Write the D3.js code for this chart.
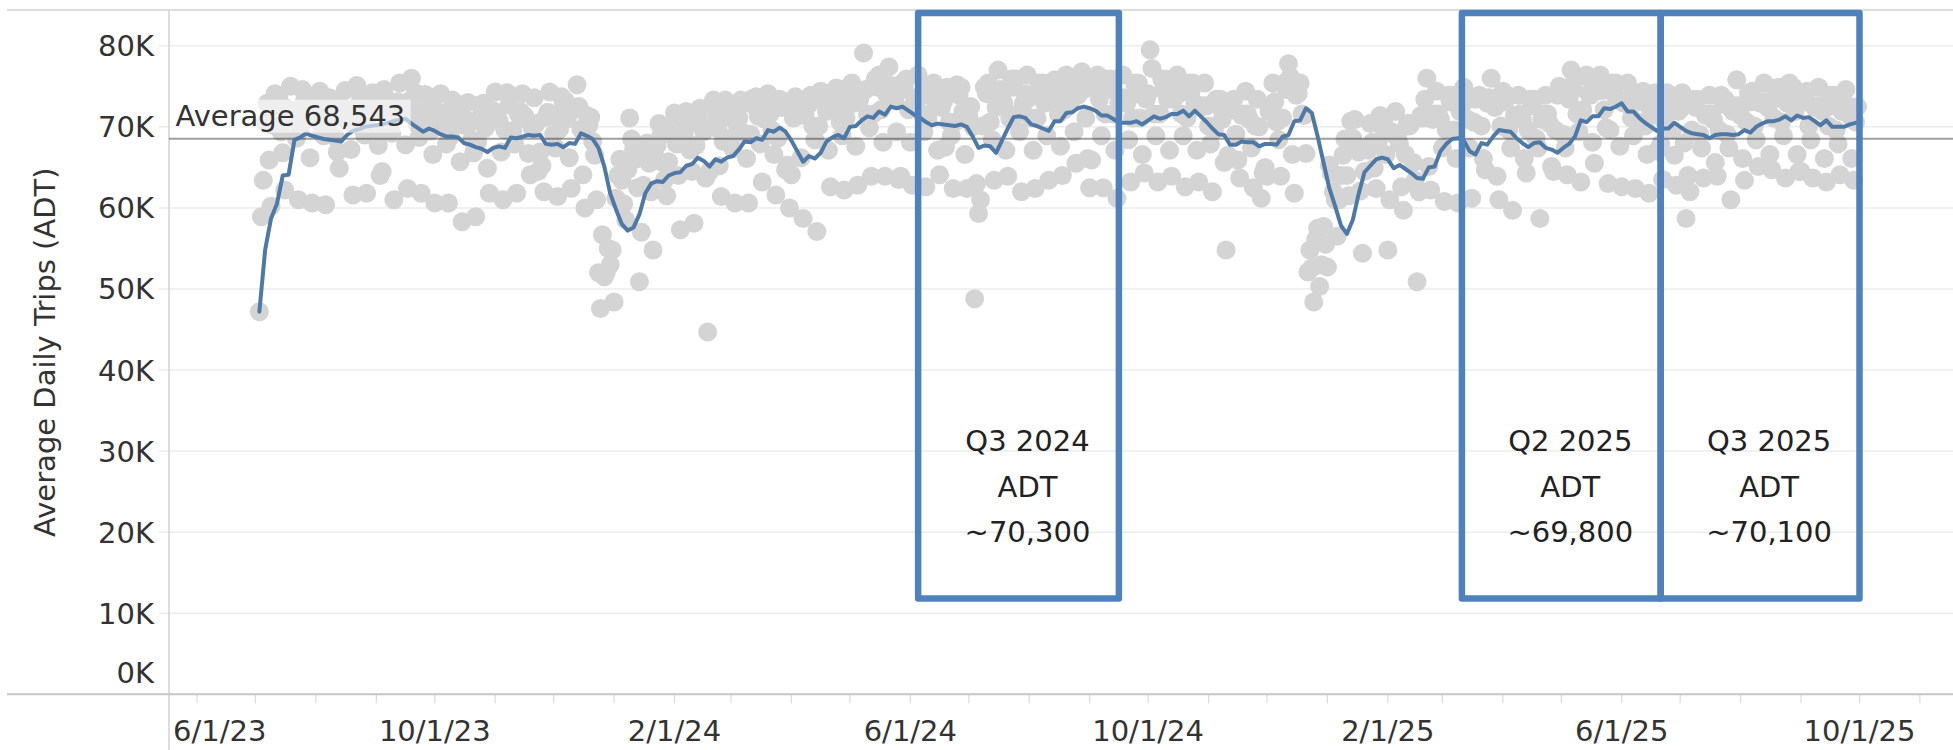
<!DOCTYPE html>
<html>
<head>
<meta charset="utf-8">
<script src="https://cdn.jsdelivr.net/npm/d3@7"></script>
<style>
  html, body { margin: 0; padding: 0; background: #ffffff; }
  svg { display: block; font-family: "DejaVu Sans", "Open Sans", sans-serif; }
</style>
</head>
<body>
<svg id="chart" width="1953" height="750"></svg>
<script>
// ---------------- DATA (values in thousands of trips) ----------------
const yTickValues = [0, 10, 20, 30, 40, 50, 60, 70, 80];
const yTickLabels = ["0K", "10K", "20K", "30K", "40K", "50K", "60K", "70K", "80K"];
const xTickDates = ["2023-06-01", "2023-10-01", "2024-02-01", "2024-06-01", "2024-10-01", "2025-02-01", "2025-06-01", "2025-10-01"];
const xTickLabels = ["6/1/23", "10/1/23", "2/1/24", "6/1/24", "10/1/24", "2/1/25", "6/1/25", "10/1/25"];
const yAxisTitle = "Average Daily Trips (ADT)";

const averageValue = 68.543;
const averageLabel = "Average 68,543";

// rolling-average line, one reading every 3 days
const lineStart = "2023-07-03";
const lineStepDays = 3;
const lineValues = [
  47.2, 54.9, 58.7, 60.5, 64.0, 64.1, 68.4, 68.7, 69.2, 68.9,
  68.7, 68.5, 68.4, 68.3, 68.2, 69.0, 69.5, 69.7, 70.0, 70.1,
  70.2, 70.3, 70.5, 70.7, 70.9, 71.0, 70.4, 69.9, 69.4, 69.8,
  69.5, 69.1, 68.8, 68.8, 68.7, 68.0, 67.8, 67.5, 67.3, 66.9,
  67.4, 67.6, 67.4, 68.7, 68.6, 68.8, 69.0, 68.9, 69.0, 67.9,
  67.8, 67.9, 67.5, 68.0, 67.9, 69.2, 68.9, 68.5, 67.4, 65.1,
  61.8, 59.8, 58.0, 57.2, 57.6, 59.2, 61.8, 63.0, 63.3, 63.2,
  64.0, 64.3, 64.4, 65.2, 65.4, 66.2, 65.8, 65.1, 66.0, 65.7,
  66.2, 66.4, 67.2, 68.2, 68.1, 68.6, 68.4, 69.6, 69.4, 69.9,
  69.4, 68.3, 67.0, 65.7, 66.4, 66.1, 66.8, 68.2, 68.7, 69.0,
  68.6, 70.0, 70.1, 70.8, 71.3, 71.1, 71.9, 71.5, 72.5, 72.3,
  72.5, 72.0, 71.5, 71.1, 70.6, 70.2, 70.4, 70.3, 70.2, 70.1,
  70.3, 70.0, 68.8, 67.4, 67.7, 67.6, 66.8, 68.3, 69.8, 71.2,
  71.3, 71.1, 70.3, 70.1, 69.8, 69.5, 70.7, 70.7, 71.7, 71.8,
  72.3, 72.5, 72.3, 72.0, 71.4, 71.4, 71.0, 70.5, 70.5, 70.5, 70.7,
  70.3, 70.8, 71.3, 71.0, 71.2, 71.6, 71.6, 72.0, 71.3, 72.0,
  71.3, 70.6, 69.8, 69.1, 69.0, 67.8, 67.8, 68.2, 68.1, 68.1,
  67.6, 67.9, 67.9, 67.8, 68.8, 69.0, 70.7, 70.8, 72.3, 71.7,
  68.8, 65.6, 62.4, 60.2, 57.8, 56.8, 58.5, 61.7, 64.4, 65.2,
  66.0, 66.2, 66.0, 64.9, 65.3, 64.8, 64.3, 63.7, 63.6, 65.0,
  65.1, 67.0, 67.9, 68.5, 68.6, 68.3, 67.0, 66.6, 68.0, 67.8,
  68.8, 69.6, 69.5, 69.4, 68.6, 68.0, 67.5, 68.0, 68.1, 67.4,
  67.2, 66.8, 67.4, 67.9, 68.8, 70.8, 70.6, 71.3, 71.3, 72.3,
  72.2, 72.5, 72.9, 71.9, 71.9, 71.1, 70.5, 70.0, 69.5, 69.8,
  69.8, 70.5, 70.0, 69.5, 69.2, 69.1, 69.0, 68.6, 69.0, 69.1,
  69.1, 69.0, 69.1, 69.6, 69.3, 70.0, 70.4, 70.7, 70.7, 70.9,
  71.3, 70.8, 71.4, 71.1, 71.2, 70.7, 70.2, 70.8, 70.0, 70.0,
  70.0, 70.3, 70.5
];

// daily trips, one row per week (Mon..Sun), starting Monday 2023-07-03
const dotStart = "2023-07-03";
const dotWeeks = [
  [47.2,58.9,63.4,70.5,72.9,65.9,60.2],
  [70.2,74.1,72.6,73.8,69.4,66.8,62.2],
  [72.3,71.1,75.0,72.0,70.9,68.6,61.0],
  [69.6,74.6,73.1,71.4,72.2,66.2,60.6],
  [71.9,70.8,73.4,74.4,69.2,68.9,60.4],
  [70.1,73.6,71.7,72.9,68.7,66.9,64.9],
  [72.6,71.9,74.5,70.6,71.4,67.2,61.6],
  [70.9,75.1,72.8,74.0,69.9,69.0,61.8],
  [73.1,71.6,74.2,72.4,69.3,67.7,64.0],
  [64.5,74.6,72.5,73.3,71.9,69.2,61.0],
  [71.2,73.1,75.4,71.8,72.6,67.8,62.4],
  [73.2,76.0,71.9,74.2,70.3,68.7,61.8],
  [70.6,74.0,72.4,73.7,69.5,66.6,60.6],
  [72.0,71.2,74.1,71.6,70.5,67.9,60.6],
  [68.8,73.3,71.8,72.9,70.4,65.7,58.3],
  [70.2,70.9,73.0,70.5,68.4,66.8,58.9],
  [68.2,72.7,71.4,72.9,69.9,64.9,61.8],
  [71.3,72.0,74.3,71.4,70.7,66.9,61.0],
  [69.6,74.2,72.7,73.9,69.5,67.9,61.8],
  [71.5,71.9,74.1,71.4,70.9,66.7,64.1],
  [69.8,73.6,70.4,64.5,66.9,65.2,62.0],
  [71.2,71.8,74.3,71.5,69.1,67.4,61.4],
  [69.7,73.7,72.9,73.2,71.0,66.2,62.4],
  [72.1,72.4,75.2,72.5,69.7,64.1,60.0],
  [71.4,70.2,71.2,68.2,66.5,61.0,52.0],
  [47.6,56.7,51.5,52.1,55.0,53.0,54.8],
  [48.4,61.2,64.0,66.0,63.4,60.5,58.5],
  [64.7,71.1,68.5,67.2,66.0,62.5,50.9],
  [57.0,62.8,66.3,68.0,65.5,62.0,54.8],
  [66.3,67.7,70.4,68.9,65.6,63.5,61.5],
  [65.7,70.1,69.3,71.7,67.9,64.0,57.3],
  [67.9,69.2,71.9,70.3,67.1,64.5,58.1],
  [67.7,71.2,72.3,70.1,69.4,63.7,44.7],
  [64.5,72.4,73.3,70.6,69.8,65.2,61.4],
  [68.2,73.3,71.2,72.0,68.7,67.3,60.6],
  [70.4,71.1,73.3,72.9,69.2,66.1,60.6],
  [69.1,73.5,72.6,73.7,71.3,67.9,63.2],
  [71.0,72.1,74.1,71.6,69.6,66.6,61.6],
  [68.6,73.4,72.4,72.9,64.7,65.3,60.0],
  [64.1,71.1,73.7,72.1,71.4,66.2,58.7],
  [71.4,73.4,72.8,73.9,70.1,68.4,57.1],
  [70.1,74.4,73.2,74.1,71.9,67.1,62.6],
  [72.4,73.1,74.8,72.9,70.6,68.9,62.2],
  [71.1,74.9,73.9,75.4,72.9,67.6,62.8],
  [73.4,74.1,79.1,74.6,71.6,69.9,63.9],
  [71.6,75.9,74.9,76.4,72.1,68.1,63.9],
  [73.9,77.4,75.1,74.3,73.4,69.4,63.5],
  [63.9,75.4,74.6,75.9,72.1,68.1,62.8],
  [72.9,73.6,76.4,73.7,71.6,69.4,62.6],
  [71.1,74.9,73.7,75.4,72.9,67.1,64.1],
  [72.4,73.1,67.5,74.9,70.6,68.9,62.4],
  [70.6,75.2,73.9,74.9,71.9,66.6,62.4],
  [71.4,72.5,70.0,48.8,63.0,59.3,61.0],
  [70.1,74.9,74.1,75.4,70.6,68.4,63.4],
  [72.4,77.0,74.6,73.6,72.9,67.1,63.9],
  [71.1,75.9,74.9,75.9,71.6,69.4,62.0],
  [72.9,74.1,76.4,73.6,71.1,67.1,62.4],
  [71.1,75.4,74.6,75.4,72.9,68.9,63.4],
  [73.4,74.1,75.8,74.1,71.6,67.6,64.0],
  [72.1,76.4,75.1,75.9,73.4,69.4,65.5],
  [73.9,74.6,76.8,74.6,71.1,66.1,62.5],
  [65.9,75.4,74.9,76.4,73.4,68.9,62.5],
  [71.6,75.9,74.6,75.9,71.6,67.1,61.2],
  [72.9,73.6,76.4,73.6,72.9,68.4,63.2],
  [71.1,75.4,74.1,75.4,71.1,66.6,64.3],
  [73.4,74.1,79.5,77.2,71.6,68.9,63.2],
  [71.6,75.9,74.6,75.9,73.4,67.1,63.9],
  [73.4,74.3,76.4,74.1,71.6,68.9,62.6],
  [71.1,75.4,74.3,75.4,72.9,67.1,63.2],
  [72.4,72.6,75.4,72.6,70.1,67.9,62.0],
  [69.6,73.4,72.6,73.4,70.9,65.6,54.8],
  [66.5,72.9,72.1,73.4,69.1,65.9,63.7],
  [71.4,71.6,74.4,71.6,70.9,67.4,62.5],
  [70.1,73.4,70.0,61.2,64.3,65.0,63.9],
  [71.9,72.6,75.4,73.1,70.6,68.4,63.9],
  [71.1,75.4,74.6,77.8,76.2,66.6,61.8],
  [73.9,74.1,75.4,71.6,71.4,66.7,52.1],
  [54.8,52.6,48.4,56.1,57.5,50.3,53.0],
  [57.7,55.5,52.7,65.3,64.3,62.0,61.0],
  [56.5,61.0,64.0,66.5,68.5,64.0,61.5],
  [70.7,68.6,70.9,67.6,66.9,62.1,54.4],
  [64.5,67.4,67.1,70.4,68.1,64.9,62.4],
  [68.1,71.4,70.1,70.9,66.6,54.8,61.0],
  [69.4,69.1,71.9,69.1,67.9,62.6,59.7],
  [66.6,70.4,70.1,70.4,65.6,63.4,50.9],
  [62.0,71.4,71.1,73.4,76.0,65.1,62.2],
  [70.9,71.6,74.4,71.6,70.9,67.4,60.8],
  [69.6,73.9,73.1,73.9,69.6,66.1,60.6],
  [71.9,72.6,74.9,73.9,70.9,67.4,61.2],
  [70.6,73.4,73.6,73.9,70.1,66.1,64.7],
  [72.9,73.6,76.0,73.1,72.4,63.9,61.0],
  [70.1,74.4,73.1,73.9,69.6,67.4,59.7],
  [71.4,71.2,73.9,71.6,70.9,66.1,64.3],
  [69.6,73.4,72.6,73.4,68.6,67.4,58.7],
  [70.9,71.6,73.9,71.6,70.4,65.1,64.5],
  [69.6,73.9,75.0,74.4,69.1,67.4,64.1],
  [73.4,77.0,74.6,75.9,71.6,69.4,63.2],
  [72.1,76.2,76.4,74.1,73.9,68.1,65.5],
  [74.4,75.1,76.4,74.5,72.1,69.9,63.0],
  [69.6,75.4,74.1,75.4,73.4,67.6,62.6],
  [72.9,73.2,75.4,73.1,71.1,68.9,62.4],
  [70.6,74.2,73.1,74.4,70.1,66.6,61.8],
  [71.9,72.1,74.2,67.0,71.4,67.9,63.5],
  [70.6,74.2,72.6,73.9,69.6,66.5,62.8],
  [71.9,72.1,74.2,68.0,58.7,64.0,62.0],
  [69.6,73.4,72.4,73.4,69.1,67.4,63.7],
  [71.4,71.6,73.9,71.6,70.9,65.6,63.9],
  [69.6,73.9,72.8,73.4,69.1,67.4,61.0],
  [71.9,72.6,75.8,72.6,71.4,66.1,63.4],
  [70.6,74.2,73.1,74.4,70.1,68.4,65.1],
  [72.9,73.1,75.4,73.1,72.4,66.6,64.7],
  [71.1,74.8,73.6,74.9,70.6,68.9,63.7],
  [72.9,75.4,73.6,74.9,71.9,66.6,64.5],
  [64.5,74.2,73.1,74.4,70.1,68.4,63.7],
  [72.4,72.6,74.9,72.6,71.9,66.1,63.2],
  [70.1,73.9,72.6,73.9,69.6,67.9,64.1],
  [71.9,72.6,74.6,72.6,71.4,66.1,63.4],
  [70.6,72.5]
];

// quarter annotation boxes
const boxStarts = ["2024-06-05", "2025-03-11", "2025-06-21"];
const boxEnds   = ["2024-09-16", "2025-06-21", "2025-10-01"];
const boxLabels = [
  ["Q3 2024", "ADT", "~70,300"],
  ["Q2 2025", "ADT", "~69,800"],
  ["Q3 2025", "ADT", "~70,100"]
];

// ---------------- DRAWING ----------------
const svg = d3.select("#chart");
const parse = d3.utcParse("%Y-%m-%d");
const FONT = 29;
const TEXT = "#333333";

const x = d3.scaleUtc()
  .domain([parse("2023-06-01"), parse("2025-10-01")])
  .range([197, 1859.5]);
const y = d3.scaleLinear().domain([0, 80]).range([694.3, 45.8]);

const axisX = 169, rightEdge = 1953, topEdge = 10;

// gridlines
svg.append("g").selectAll("line").data(yTickValues).join("line")
  .attr("x1", 159).attr("x2", rightEdge)
  .attr("y1", d => y(d)).attr("y2", d => y(d))
  .attr("stroke", "#ececec").attr("stroke-width", 1.5);

// frame lines
svg.append("line").attr("x1", 7).attr("x2", rightEdge).attr("y1", topEdge).attr("y2", topEdge)
  .attr("stroke", "#d2d2d2").attr("stroke-width", 1.5);
svg.append("line").attr("x1", axisX).attr("x2", axisX).attr("y1", topEdge).attr("y2", 750)
  .attr("stroke", "#d2d2d2").attr("stroke-width", 1.5);

// x month ticks
const months = d3.utcMonth.range(parse("2023-06-01"), parse("2025-11-02"));
svg.append("g").selectAll("line").data(months).join("line")
  .attr("x1", d => x(d)).attr("x2", d => x(d))
  .attr("y1", y(0)).attr("y2", y(0) + 9)
  .attr("stroke", "#dadada").attr("stroke-width", 1.2);

// dots
const dotOrigin = parse(dotStart);
const dots = [];
dotWeeks.forEach((row, w) => row.forEach((v, d) => {
  dots.push({ date: d3.utcDay.offset(dotOrigin, w * 7 + d), v });
}));
svg.append("g").selectAll("circle").data(dots).join("circle")
  .attr("cx", d => x(d.date)).attr("cy", d => y(d.v))
  .attr("r", 9.5).attr("fill", "#d4d4d4");

// x axis line
svg.append("line").attr("x1", 7).attr("x2", rightEdge).attr("y1", y(0)).attr("y2", y(0))
  .attr("stroke", "#c6c6c6").attr("stroke-width", 2);

// average reference line
svg.append("line")
  .attr("x1", axisX).attr("x2", rightEdge)
  .attr("y1", y(averageValue)).attr("y2", y(averageValue))
  .attr("stroke", "rgba(0,0,0,0.38)").attr("stroke-width", 2);

// rolling average line
const lineOrigin = parse(lineStart);
const linePts = lineValues.map((v, i) => ({ date: d3.utcDay.offset(lineOrigin, i * lineStepDays), v }));
svg.append("path").datum(linePts)
  .attr("d", d3.line().x(d => x(d.date)).y(d => y(d.v)))
  .attr("fill", "none").attr("stroke", "#4e79a7")
  .attr("stroke-width", 4).attr("stroke-linejoin", "round").attr("stroke-linecap", "round");

// average label with translucent background
const avgG = svg.append("g");
const avgText = avgG.append("text")
  .attr("x", 175.5).attr("y", y(averageValue) - 13)
  .attr("font-size", FONT).attr("fill", TEXT).text(averageLabel);
const bb = avgText.node().getBBox();
avgG.insert("rect", "text")
  .attr("x", 170).attr("y", bb.y + 1)
  .attr("width", bb.width + 11).attr("height", bb.height - 1)
  .attr("fill", "#ffffff").attr("fill-opacity", 0.6);

// annotation boxes
const boxTop = 13, boxBottom = 598.5;
const boxG = svg.append("g");
boxStarts.forEach((s, i) => {
  const x0 = x(parse(s)), x1 = x(parse(boxEnds[i]));
  boxG.append("rect")
    .attr("x", x0).attr("y", boxTop)
    .attr("width", x1 - x0).attr("height", boxBottom - boxTop)
    .attr("fill", "none").attr("stroke", "#4f81bd")
    .attr("stroke-width", 6.5).attr("stroke-linejoin", "round");
  const cx = (x0 + x1) / 2 + 9;
  boxLabels[i].forEach((t, k) => {
    boxG.append("text")
      .attr("x", cx).attr("y", 451 + k * 45.5)
      .attr("text-anchor", "middle")
      .attr("font-size", FONT).attr("fill", "#222222").text(t);
  });
});

// y tick labels
svg.append("g").selectAll("text").data(yTickValues).join("text")
  .attr("x", 154)
  .attr("y", d => d === 0 ? y(d) - 11 : y(d) + 10.5)
  .attr("text-anchor", "end")
  .attr("font-size", FONT).attr("fill", TEXT)
  .text((d, i) => yTickLabels[i]);

// x tick labels
svg.append("g").selectAll("text").data(xTickDates).join("text")
  .attr("x", d => x(parse(d))).attr("y", 741)
  .attr("text-anchor", "middle")
  .attr("font-size", FONT).attr("fill", TEXT)
  .text((d, i) => xTickLabels[i])
  .each(function () {
    const b = this.getBBox();
    if (b.x < axisX + 4) {
      d3.select(this).attr("x", axisX + 4 + b.width / 2);
    }
  });

// y axis title
svg.append("text")
  .attr("transform", "translate(55," + (topEdge + y(0)) / 2 + ") rotate(-90)")
  .attr("text-anchor", "middle")
  .attr("font-size", FONT).attr("fill", TEXT)
  .text(yAxisTitle);
</script>
</body>
</html>
